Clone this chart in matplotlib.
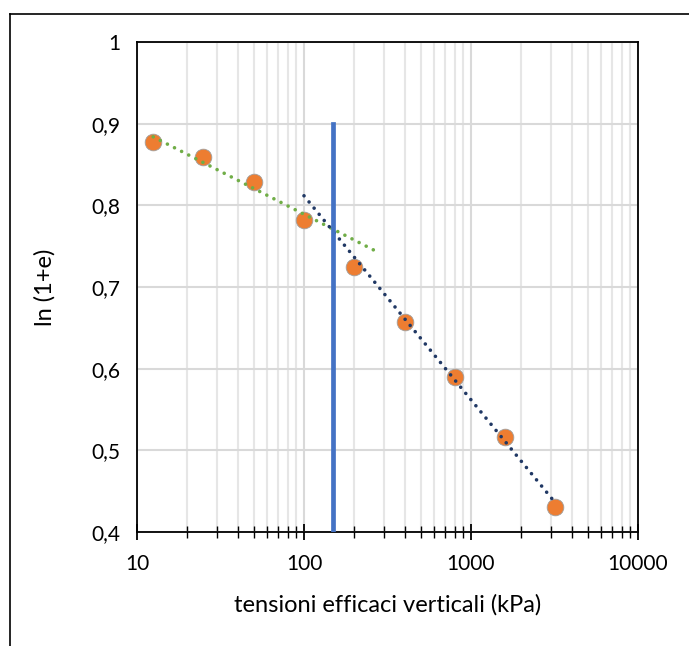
import numpy as np
import matplotlib
matplotlib.use("Agg")
import matplotlib.pyplot as plt
from matplotlib.ticker import FixedLocator, FuncFormatter, NullFormatter, LogLocator
from matplotlib.lines import Line2D

plt.rcParams['font.family'] = ['Lato', 'DejaVu Sans']

# data
stress = [12.5, 25, 50, 100, 200, 400, 800, 1600, 3200]
ln1e = [0.877, 0.859, 0.828, 0.782, 0.724, 0.657, 0.590, 0.516, 0.431]
sigma_p = 150
sigma_p_range = [0.4, 0.9]
x_ticks = [10, 100, 1000, 10000]
x_ticklabels = ["10", "100", "1000", "10000"]
y_ticks = [0.4, 0.5, 0.6, 0.7, 0.8, 0.9, 1.0]
y_ticklabels = ["0,4", "0,5", "0,6", "0,7", "0,8", "0,9", "1"]

fig = plt.figure(figsize=(6.89, 6.46), dpi=100)
ax = fig.add_axes([137/689, 1-532/646, (638-137)/689, (532-42)/646])

# outer frame (left and top edges)
fig.add_artist(Line2D([10/689, 10/689], [0, 1-14/646], transform=fig.transFigure, color='black', lw=1.2))
fig.add_artist(Line2D([10/689, 1], [1-14/646, 1-14/646], transform=fig.transFigure, color='black', lw=1.2))

ax.set_xscale('log')
ax.set_xlim(10, 10000)
ax.set_ylim(0.4, 1.0)

# grid
ax.set_axisbelow(True)
ax.xaxis.set_major_locator(FixedLocator(x_ticks))
ax.xaxis.set_minor_locator(LogLocator(base=10, subs=np.arange(2, 10)))
ax.xaxis.set_major_formatter(FuncFormatter(lambda v, p: x_ticklabels[x_ticks.index(int(round(v)))] if int(round(v)) in x_ticks else ""))
ax.xaxis.set_minor_formatter(NullFormatter())
ax.yaxis.set_major_locator(FixedLocator(y_ticks))
ax.set_yticklabels(y_ticklabels)
ax.grid(True, which='major', axis='both', color='#D9D9D9', lw=1.5)
ax.grid(True, which='minor', axis='x', color='#E6E6E6', lw=1.5)

# data points
ax.plot(stress, ln1e, 'o', ms=12, color='#ED7D31', mec='#A0A0A0', mew=0.6, zorder=3)

# trendlines (logarithmic fits)
lx = np.log10(stress)
y = np.array(ln1e)
g = np.polyfit(lx[:4], y[:4], 1)
xg = np.linspace(np.log10(12.5), np.log10(285), 100)
ax.plot(10**xg, np.polyval(g, xg), color='#70AD47', lw=2.6, ls=(0, (0.01, 2.2)),
        dash_capstyle='round', zorder=4)
b = np.polyfit(lx[5:], y[5:], 1)
xb = np.linspace(np.log10(100), np.log10(3200), 200)
ax.plot(10**xb, np.polyval(b, xb), color='#203864', lw=2.6, ls=(0, (0.01, 2.2)),
        dash_capstyle='round', zorder=4)

# preconsolidation line
ax.plot([sigma_p, sigma_p], sigma_p_range, color='#4472C4', lw=3.4, zorder=5)

for s in ax.spines.values():
    s.set_color('black')
    s.set_linewidth(1.3)

ax.tick_params(axis='x', which='major', direction='inout', length=12, width=1.3, labelsize=15, pad=10)
ax.tick_params(axis='x', which='minor', direction='inout', length=9, width=1.0)
ax.tick_params(axis='y', which='major', length=0, labelsize=15, pad=12)

ax.set_xlabel('tensioni efficaci verticali (kPa)', fontsize=17, labelpad=14)
ax.set_ylabel('ln (1+e)', fontsize=17, labelpad=26)

fig.savefig('out.png', dpi=100)
